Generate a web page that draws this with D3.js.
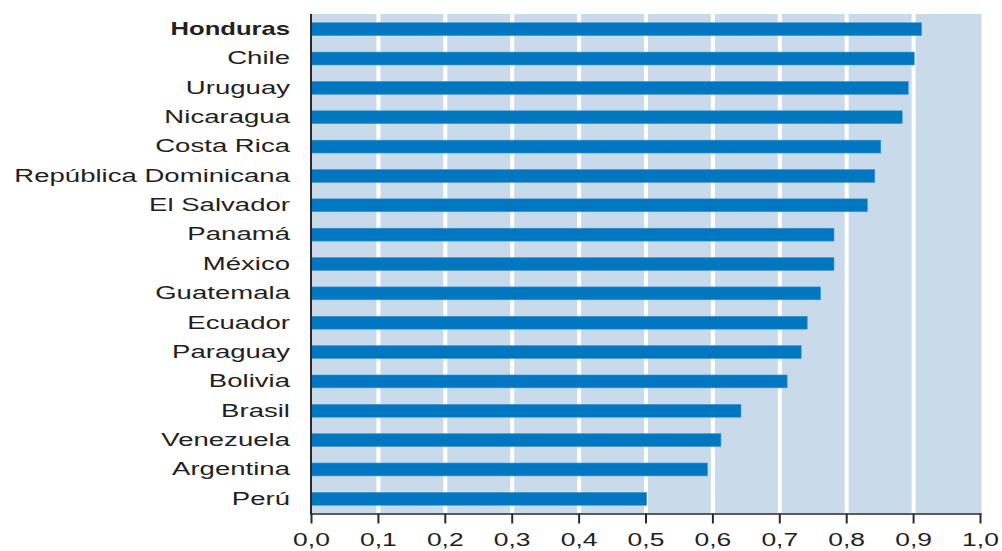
<!DOCTYPE html>
<html>
<head>
<meta charset="utf-8">
<script src="https://cdn.jsdelivr.net/npm/d3@7"></script>
<style>
  html, body { margin: 0; padding: 0; background: #ffffff; }
  svg { display: block; }
  text { font-family: "Liberation Sans", Arial, Helvetica, sans-serif; fill: #231f20; }
</style>
</head>
<body>
<svg id="chart" width="1002" height="551"></svg>
<script>
const countries = ["Honduras", "Chile", "Uruguay", "Nicaragua", "Costa Rica", "República Dominicana",
  "El Salvador", "Panamá", "México", "Guatemala", "Ecuador", "Paraguay", "Bolivia", "Brasil",
  "Venezuela", "Argentina", "Perú"];
const values = [0.912, 0.901, 0.892, 0.883, 0.851, 0.842, 0.831, 0.781, 0.781, 0.761, 0.741,
  0.732, 0.711, 0.642, 0.612, 0.592, 0.501];
const tickValues = [0, 0.1, 0.2, 0.3, 0.4, 0.5, 0.6, 0.7, 0.8, 0.9, 1.0];
const tickLabels = ["0,0", "0,1", "0,2", "0,3", "0,4", "0,5", "0,6", "0,7", "0,8", "0,9", "1,0"];
const highlighted = ["Honduras"];

const svg = d3.select("#chart");
const mLeft = 311.5, mRight = 980.5, mTop = 14, mBottom = 513.5;
const stretchNormal = 1.49, stretchBold = 1.385, stretchTick = 1.43;

const x = d3.scaleLinear().domain([0, 1]).range([mLeft, mRight]);
const y = d3.scaleBand().domain(countries).range([mTop + 0.5, mBottom]).paddingInner(0.56).paddingOuter(0.28);

// background
svg.append("rect")
  .attr("x", mLeft).attr("y", mTop)
  .attr("width", mRight - mLeft + 1).attr("height", mBottom - mTop)
  .attr("fill", "#c9dbeb");

// gridlines
svg.append("g").selectAll("line")
  .data(tickValues.slice(1, -1))
  .join("line")
  .attr("x1", d => x(d)).attr("x2", d => x(d))
  .attr("y1", mTop).attr("y2", mBottom)
  .attr("stroke", "#ffffff").attr("stroke-width", 4);

// bars
svg.append("g").selectAll("rect")
  .data(countries)
  .join("rect")
  .attr("x", x(0))
  .attr("y", d => y(d))
  .attr("width", (d, i) => x(values[i]) - x(0))
  .attr("height", y.bandwidth())
  .attr("fill", "#0077c0")
  .attr("stroke", "#4a98d0").attr("stroke-width", 0.6);

// y axis line
svg.append("line")
  .attr("x1", mLeft - 0.5).attr("x2", mLeft - 0.5)
  .attr("y1", mTop).attr("y2", mBottom + 1)
  .attr("stroke", "#2a2a2a").attr("stroke-width", 2);

// x axis line
svg.append("line")
  .attr("x1", mLeft - 1.5).attr("x2", mRight + 1)
  .attr("y1", mBottom + 0.5).attr("y2", mBottom + 0.5)
  .attr("stroke", "#2a2a2a").attr("stroke-width", 1.5);

// ticks
svg.append("g").selectAll("line")
  .data(tickValues)
  .join("line")
  .attr("x1", d => x(d)).attr("x2", d => x(d))
  .attr("y1", mBottom).attr("y2", mBottom + 10)
  .attr("stroke", "#2a2a2a").attr("stroke-width", 2);

// tick labels
svg.append("g").selectAll("text")
  .data(tickValues)
  .join("text")
  .attr("transform", d => `translate(${x(d)},546) scale(${stretchTick},1)`)
  .attr("text-anchor", "middle")
  .attr("font-size", 18.5)
  .text((d, i) => tickLabels[i]);

// category labels
svg.append("g").selectAll("text")
  .data(countries)
  .join("text")
  .attr("transform", d => `translate(290,${y(d) + y.bandwidth() / 2 + 5.8}) scale(${highlighted.includes(d) ? stretchBold : stretchNormal},1)`)
  .attr("text-anchor", "end")
  .attr("font-size", 18.5)
  .attr("font-weight", d => highlighted.includes(d) ? "bold" : "normal")
  .attr("fill", d => highlighted.includes(d) ? "#111" : "#231f20")
  .text(d => d);
</script>
</body>
</html>
